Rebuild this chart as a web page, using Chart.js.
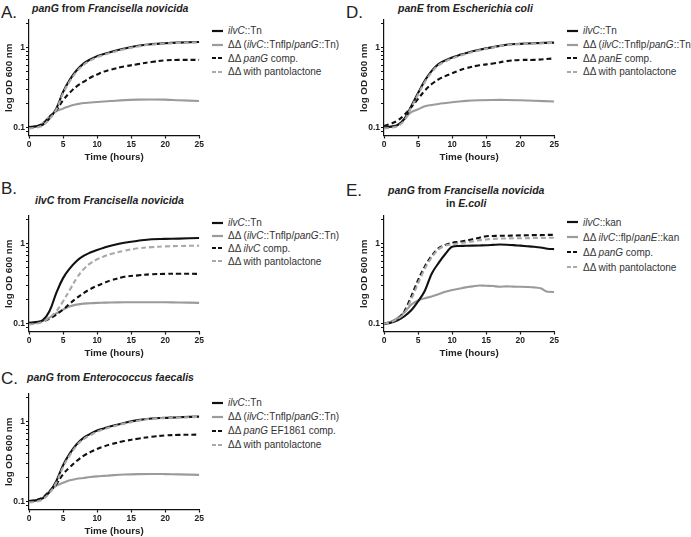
<!DOCTYPE html>
<html>
<head>
<meta charset="utf-8">
<script src="https://cdn.jsdelivr.net/npm/chart.js@4.4.1/dist/chart.umd.min.js"></script>
<style>
  body { margin: 0; background: #fff; }
  #fig { position: relative; width: 691px; height: 537px; font-family: "Liberation Sans", Arial, sans-serif; color: #222; }
  #fig canvas { position: absolute; }
  .letter { position: absolute; font-size: 17px; line-height: 1; }
  .title { position: absolute; font-weight: bold; font-size: 10.5px; line-height: 13px; white-space: nowrap; }
  .legend { position: absolute; font-size: 10px; color: #333; }
  .legend .row { display: flex; align-items: center; white-space: nowrap; }
  .legend svg { margin-right: 5px; }
</style>
</head>
<body>
<div id="fig"></div>
<script>
// ==================================================
// DATA
// ==================================================
const hours = [0, 1, 2, 3, 4, 5, 6, 7, 8, 9, 10, 11, 12, 14, 16, 18, 20, 22, 25];
const hoursE = [0, 1, 2, 3, 4, 5, 6, 7, 8, 9, 10, 11, 12, 13, 14, 15, 16, 17, 18, 19, 20, 21, 22, 23, 24, 25];

// A. panG from Francisella novicida
const aTn = [0.102, 0.104, 0.109, 0.13, 0.173, 0.279, 0.398, 0.52, 0.63, 0.71, 0.78, 0.83, 0.88, 0.97, 1.05, 1.1, 1.13, 1.15, 1.17];
const aDD = [0.1, 0.104, 0.113, 0.138, 0.16, 0.173, 0.187, 0.196, 0.203, 0.206, 0.209, 0.212, 0.215, 0.221, 0.224, 0.225, 0.224, 0.22, 0.215];
const aComp = [0.1, 0.103, 0.112, 0.136, 0.165, 0.22, 0.274, 0.328, 0.372, 0.42, 0.46, 0.5, 0.53, 0.58, 0.62, 0.66, 0.69, 0.7, 0.7];
const aPanto = [0.098, 0.1, 0.107, 0.128, 0.168, 0.268, 0.38, 0.5, 0.605, 0.685, 0.755, 0.81, 0.86, 0.95, 1.03, 1.09, 1.12, 1.14, 1.16];

// B. ilvC from Francisella novicida
const bTn = [0.103, 0.105, 0.11, 0.143, 0.241, 0.37, 0.49, 0.606, 0.7, 0.77, 0.83, 0.885, 0.935, 1.02, 1.08, 1.13, 1.14, 1.15, 1.17];
const bDD = [0.1, 0.102, 0.108, 0.119, 0.134, 0.15, 0.165, 0.173, 0.178, 0.18, 0.182, 0.183, 0.184, 0.185, 0.185, 0.185, 0.185, 0.184, 0.182];
const bComp = [0.1, 0.102, 0.107, 0.115, 0.13, 0.15, 0.178, 0.209, 0.241, 0.27, 0.297, 0.322, 0.346, 0.384, 0.4, 0.414, 0.418, 0.42, 0.418];
const bPanto = [0.098, 0.1, 0.106, 0.119, 0.143, 0.19, 0.265, 0.37, 0.476, 0.566, 0.635, 0.69, 0.74, 0.81, 0.87, 0.9, 0.92, 0.93, 0.94];

// C. panG from Enterococcus faecalis
const cTn = [0.102, 0.104, 0.11, 0.132, 0.18, 0.285, 0.4, 0.52, 0.625, 0.7, 0.77, 0.82, 0.87, 0.96, 1.04, 1.09, 1.11, 1.13, 1.15];
const cDD = [0.1, 0.104, 0.112, 0.135, 0.158, 0.172, 0.185, 0.193, 0.198, 0.203, 0.207, 0.21, 0.213, 0.218, 0.221, 0.222, 0.221, 0.219, 0.216];
const cComp = [0.102, 0.105, 0.113, 0.135, 0.165, 0.22, 0.27, 0.322, 0.373, 0.415, 0.455, 0.49, 0.52, 0.57, 0.61, 0.645, 0.67, 0.68, 0.687];
const cPanto = [0.098, 0.1, 0.107, 0.128, 0.172, 0.27, 0.38, 0.5, 0.6, 0.675, 0.745, 0.8, 0.85, 0.94, 1.02, 1.08, 1.1, 1.12, 1.14];

// D. panE from Escherichia coli
const dTn = [0.1, 0.103, 0.108, 0.129, 0.185, 0.27, 0.386, 0.51, 0.62, 0.69, 0.75, 0.8, 0.85, 0.935, 1.01, 1.08, 1.11, 1.13, 1.15];
const dDD = [0.1, 0.104, 0.109, 0.129, 0.156, 0.17, 0.185, 0.192, 0.198, 0.203, 0.208, 0.212, 0.216, 0.22, 0.222, 0.222, 0.22, 0.217, 0.212];
const dComp = [0.105, 0.112, 0.123, 0.145, 0.18, 0.229, 0.29, 0.35, 0.4, 0.44, 0.476, 0.515, 0.55, 0.6, 0.63, 0.676, 0.7, 0.7, 0.73];
const dPanto = [0.098, 0.1, 0.105, 0.124, 0.178, 0.26, 0.37, 0.49, 0.6, 0.67, 0.73, 0.78, 0.83, 0.92, 1.0, 1.07, 1.1, 1.12, 1.14];

// E. panG from Francisella novicida in E.coli
const eKan = [0.1, 0.103, 0.11, 0.124, 0.147, 0.19, 0.258, 0.42, 0.57, 0.74, 0.91, 0.93, 0.935, 0.94, 0.945, 0.95, 0.96, 0.97, 0.965, 0.955, 0.94, 0.925, 0.91, 0.89, 0.86, 0.85];
const eDD = [0.1, 0.106, 0.118, 0.139, 0.172, 0.195, 0.208, 0.218, 0.233, 0.25, 0.263, 0.273, 0.284, 0.292, 0.3, 0.297, 0.295, 0.289, 0.292, 0.29, 0.289, 0.287, 0.284, 0.276, 0.25, 0.249];
const eComp = [0.1, 0.105, 0.115, 0.143, 0.218, 0.35, 0.518, 0.7, 0.87, 0.96, 1.02, 1.05, 1.08, 1.13, 1.18, 1.23, 1.24, 1.25, 1.25, 1.255, 1.26, 1.265, 1.27, 1.27, 1.28, 1.28];
const ePanto = [0.1, 0.105, 0.115, 0.136, 0.2, 0.318, 0.486, 0.67, 0.84, 0.94, 0.98, 1.0, 1.03, 1.06, 1.1, 1.12, 1.14, 1.15, 1.155, 1.16, 1.16, 1.165, 1.17, 1.17, 1.175, 1.18];

// axis ticks
const xTicks = [0, 5, 10, 15, 20, 25];
const yTicks = [0.09, 0.1, 0.2, 0.3, 0.4, 0.5, 0.6, 0.7, 0.8, 0.9, 1, 2];
const yLabels = { 0.1: "0.1", 1: "1" };

// legend texts
const legendA = ["<i>ilvC</i>::Tn", "ΔΔ (<i>ilvC</i>::Tnflp/<i>panG</i>::Tn)", "ΔΔ <i>panG</i> comp.", "ΔΔ with pantolactone"];
const legendB = ["<i>ilvC</i>::Tn", "ΔΔ (<i>ilvC</i>::Tnflp/<i>panG</i>::Tn)", "ΔΔ <i>ilvC</i> comp.", "ΔΔ with pantolactone"];
const legendC = ["<i>ilvC</i>::Tn", "ΔΔ (<i>ilvC</i>::Tnflp/<i>panG</i>::Tn)", "ΔΔ <i>panG</i> EF1861 comp.", "ΔΔ with pantolactone"];
const legendD = ["<i>ilvC</i>::Tn", "ΔΔ (<i>ilvC</i>::Tnflp/<i>panG</i>::Tn)", "ΔΔ <i>panE</i> comp.", "ΔΔ with pantolactone"];
const legendE = ["<i>ilvC</i>::kan", "ΔΔ <i>ilvC</i>::flp/<i>panE</i>::kan", "ΔΔ <i>panG</i> comp.", "ΔΔ with pantolactone"];

// ==================================================
// STYLES
// ==================================================
const styles = [
  { color: "#111", dash: [], order: 2 },
  { color: "#9b9b9b", dash: [], order: 3 },
  { color: "#111", dash: [5, 3], order: 1 },
  { color: "#a9a9a9", dash: [5, 3], order: 0 },
];
const FONT = '"Liberation Sans", Arial, sans-serif';
const fig = document.querySelector("#fig");

// ==================================================
// HELPERS
// ==================================================
function addText(cls, html, css) {
  const el = document.createElement("div");
  el.className = cls;
  el.innerHTML = html;
  Object.assign(el.style, css);
  fig.appendChild(el);
  return el;
}

function addLegend(labels, left, top, rowH) {
  const box = addText("legend", "", { left: left + "px", top: top + "px" });
  labels.forEach((label, i) => {
    const s = styles[i];
    const row = document.createElement("div");
    row.className = "row";
    row.style.height = rowH + "px";
    row.innerHTML =
      `<svg width="11" height="4"><line x1="0" y1="2" x2="11" y2="2" stroke="${s.color}" stroke-width="2.2" stroke-dasharray="${s.dash.length ? "4 2" : ""}"/></svg>` +
      `<span>${label}</span>`;
    box.appendChild(row);
  });
}

function makeChart(left, top, xs, series, smooth) {
  const canvas = document.createElement("canvas");
  canvas.width = 205;
  canvas.height = 160;
  canvas.style.left = left + "px";
  canvas.style.top = top + "px";
  fig.appendChild(canvas);

  const tickFont = { family: FONT, size: 8.5, weight: "bold" };
  const titleFont = { family: FONT, size: 9.8, weight: "bold" };

  new Chart(canvas.getContext("2d"), {
    type: "line",
    data: {
      datasets: series.map((ys, i) => ({
        data: xs.map((x, j) => ({ x: x, y: ys[j] })),
        borderColor: styles[i].color,
        borderDash: styles[i].dash,
        borderWidth: 2.1,
        pointRadius: 0,
        fill: false,
        tension: smooth ? 0.4 : 0,
        cubicInterpolationMode: smooth ? "default" : "monotone",
        order: styles[i].order,
      })),
    },
    options: {
      responsive: false,
      animation: false,
      events: [],
      layout: { padding: { left: 0, right: 5, top: 10, bottom: 0 } },
      plugins: { legend: { display: false }, tooltip: { enabled: false } },
      scales: {
        x: {
          type: "linear",
          min: 0,
          max: 25,
          afterBuildTicks: (scale) => { scale.ticks = xTicks.map((v) => ({ value: v })); },
          afterFit: (scale) => { scale.height = 34.5; },
          grid: { drawOnChartArea: false, tickLength: 3, color: "#111", tickWidth: 1.2 },
          border: { color: "#111", width: 1.2 },
          ticks: { font: tickFont, color: "#222", padding: 1, maxRotation: 0 },
          title: { display: true, text: "Time (hours)", font: titleFont, color: "#222", padding: { top: 0, bottom: 6.5 } },
        },
        y: {
          type: "logarithmic",
          min: 0.08,
          max: 2.2,
          afterBuildTicks: (scale) => { scale.ticks = yTicks.map((v) => ({ value: v })); },
          afterFit: (scale) => { scale.width = 29; },
          grid: { drawOnChartArea: false, tickLength: 3, color: "#111", tickWidth: 1 },
          border: { color: "#111", width: 1.2 },
          ticks: {
            font: tickFont,
            color: "#222",
            padding: 1,
            autoSkip: false,
            callback: (v) => yLabels[v] || "",
          },
          title: { display: true, text: "log OD 600 nm", font: titleFont, color: "#222", padding: { top: 3, bottom: 0 } },
        },
      },
    },
  });
}

// ==================================================
// PANELS
// ==================================================
// A
addText("letter", "A.", { left: "1px", top: "4px" });
addText("title", "<i>panG</i> from <i>Francisella novicida</i>", { left: "32px", top: "2px" });
makeChart(0, 10, hours, [aTn, aDD, aComp, aPanto], true);
addLegend(legendA, 212, 24, 13.7);

// B
addText("letter", "B.", { left: "1px", top: "180px" });
addText("title", "<i>ilvC</i> from <i>Francisella novicida</i>", { left: "35px", top: "194px" });
makeChart(0, 205.5, hours, [bTn, bDD, bComp, bPanto], true);
addLegend(legendB, 212, 216.5, 12.8);

// C
addText("letter", "C.", { left: "1px", top: "370px" });
addText("title", "<i>panG</i> from <i>Enterococcus faecalis</i>", { left: "27px", top: "371px" });
makeChart(0, 384, hours, [cTn, cDD, cComp, cPanto], true);
addLegend(legendC, 212, 396, 13.9);

// D
addText("letter", "D.", { left: "346px", top: "4px" });
addText("title", "<i>panE</i> from <i>Escherichia coli</i>", { left: "398px", top: "2px" });
makeChart(355, 10, hours, [dTn, dDD, dComp, dPanto], true);
addLegend(legendD, 567, 24, 13.7);

// E
addText("letter", "E.", { left: "346px", top: "182px" });
addText("title", "<i>panG</i> from <i>Francisella novicida</i><br>in <i>E.coli</i>", { left: "388px", top: "184px", textAlign: "center" });
makeChart(355, 205.5, hoursE, [eKan, eDD, eComp, ePanto], false);
addLegend(legendE, 567, 215, 14.9);
</script>
</body>
</html>
